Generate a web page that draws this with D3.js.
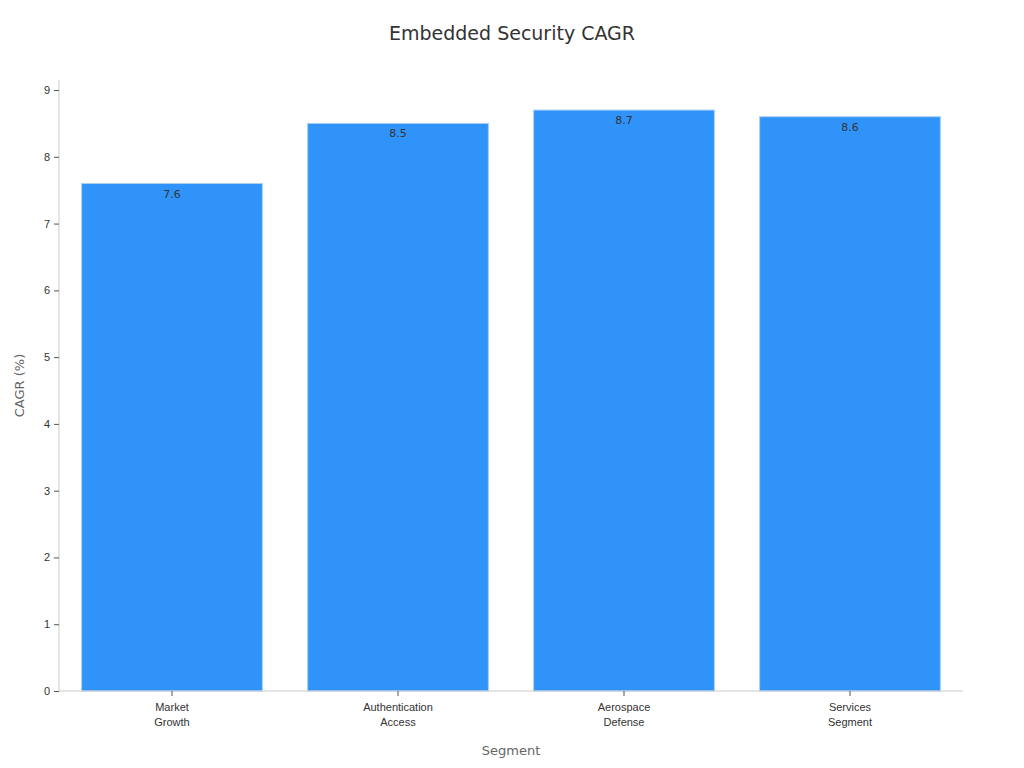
<!DOCTYPE html>
<html><head><meta charset="utf-8">
<script src="https://cdn.jsdelivr.net/npm/d3@7"></script>
<style>body{margin:0;background:#fff}svg{font-family:"DejaVu Sans",sans-serif}</style>
</head><body><svg id="chart" width="1024" height="768"></svg>
<script>
const categories = [['Market', 'Growth'], ['Authentication', 'Access'], ['Aerospace', 'Defense'], ['Services', 'Segment']];
const values = [7.6, 8.5, 8.7, 8.6];
const yTicks = [0, 1, 2, 3, 4, 5, 6, 7, 8, 9];

const svg = d3.select('#chart');
const plotL = 59, plotR = 963, plotT = 80, plotB = 691;

const x = d3.scaleBand().domain(categories.map((d, i) => i)).range([plotL, plotR]).paddingInner(0.2).paddingOuter(0.1);
const y = d3.scaleLinear().domain([0, 9.15]).range([plotB, plotT]);

svg.append('text').attr('x', 512).attr('y', 40).attr('text-anchor', 'middle')
  .attr('font-size', 19).attr('fill', '#333').text('Embedded Security CAGR');

svg.selectAll('rect.bar').data(values).join('rect')
  .attr('class', 'bar')
  .attr('x', (d, i) => x(i)).attr('width', x.bandwidth())
  .attr('y', d => y(d)).attr('height', d => y(0) - y(d))
  .attr('fill', '#2f93f9').attr('stroke', '#a9cff5').attr('stroke-width', 1);

svg.selectAll('text.val').data(values).join('text')
  .attr('class', 'val')
  .attr('x', (d, i) => x(i) + x.bandwidth() / 2).attr('y', d => y(d) + 14)
  .attr('text-anchor', 'middle').attr('font-size', 11).attr('fill', '#333')
  .text(d => d.toFixed(1));

const ya = svg.append('g').attr('transform', `translate(${plotL},0)`)
  .call(d3.axisLeft(y).tickValues(yTicks).tickSize(5).tickPadding(4));
ya.select('.domain').attr('stroke', '#ccc').attr('d', `M0,${plotT}V${plotB}`);
ya.selectAll('line').attr('stroke', '#555');
ya.selectAll('text').attr('font-size', 11).attr('fill', '#333');

const xa = svg.append('g').attr('transform', `translate(0,${plotB})`)
  .call(d3.axisBottom(x).tickSize(5).tickFormat(''));
xa.select('.domain').attr('stroke', '#ccc').attr('d', `M${plotL},0H${plotR}`);
xa.selectAll('line').attr('stroke', '#555');
xa.selectAll('.tick').each(function (i) {
  const t = d3.select(this).append('text').attr('fill', '#333').attr('font-size', 11).attr('text-anchor', 'middle');
  categories[i].forEach((line, k) => t.append('tspan').attr('x', 0).attr('y', 20 + k * 15).text(line));
});

svg.append('text').attr('x', (plotL + plotR) / 2).attr('y', 755).attr('text-anchor', 'middle')
  .attr('font-size', 13).attr('fill', '#666').text('Segment');
svg.append('text').attr('transform', `translate(24,${(plotT + plotB) / 2}) rotate(-90)`)
  .attr('text-anchor', 'middle').attr('font-size', 13).attr('fill', '#666').text('CAGR (%)');
</script></body></html>
